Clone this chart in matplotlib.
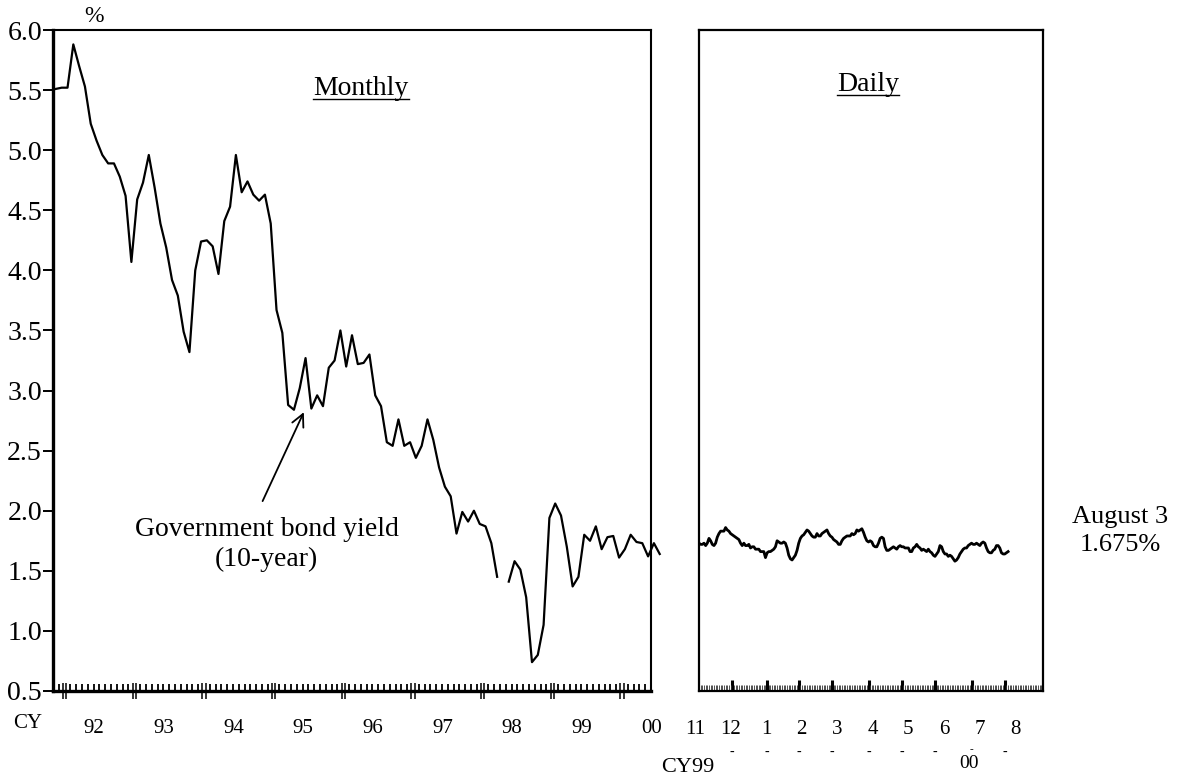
import numpy as np
import matplotlib
matplotlib.use("Agg")
import matplotlib.pyplot as plt
from matplotlib.lines import Line2D
from matplotlib.transforms import blended_transform_factory

plt.rcParams['font.family'] = ['Liberation Serif', 'DejaVu Serif']

# ---------------- data ----------------
# Monthly 10-year JGB yield, Nov 1991 .. Jul 2000 (month index 0 = Jan 1992)
monthly_start = -2
monthly_yield = [
    5.51, 5.52, 5.52, 5.88, 5.70, 5.53, 5.22, 5.08, 4.96, 4.89, 4.89, 4.78, 4.62, 4.07,   # Nov91-Dec92
    4.59, 4.73, 4.96, 4.69, 4.39, 4.19, 3.92, 3.79, 3.49, 3.32, 4.00, 4.24,               # 1993
    4.25, 4.20, 3.97, 4.41, 4.53, 4.96, 4.65, 4.74, 4.63, 4.58, 4.63, 4.39,               # 1994
    3.67, 3.48, 2.88, 2.84, 3.02, 3.27, 2.85, 2.96, 2.87, 3.19, 3.25, 3.50,               # 1995
    3.20, 3.46, 3.22, 3.23, 3.30, 2.96, 2.87, 2.57, 2.54, 2.76, 2.54, 2.57,               # 1996
    2.44, 2.54, 2.76, 2.59, 2.36, 2.20, 2.12, 1.81, 1.99, 1.91, 2.00, 1.89,               # 1997
    1.87, 1.73, 1.45, np.nan, 1.41, 1.58, 1.51, 1.28, 0.74, 0.80, 1.05, 1.94,             # 1998
    2.06, 1.96, 1.70, 1.37, 1.45, 1.80, 1.75, 1.87, 1.68, 1.78, 1.79, 1.61,               # 1999
    1.68, 1.80, 1.74, 1.73, 1.62, 1.73, 1.64,                                             # 2000
]
year_labels = ["92", "93", "94", "95", "96", "97", "98", "99", "00"]

# Daily yield, business days from Nov 1 1999 to Aug 3 2000
daily_month_labels = ["11", "12", "1", "2", "3", "4", "5", "6", "7", "8"]
business_days_per_month = [20, 21, 19, 20, 22, 20, 20, 22, 20, 23]
daily_yield = [
    1.73, 1.72, 1.72, 1.73, 1.71, 1.73, 1.77, 1.75, 1.72, 1.71,
    1.73, 1.78, 1.81, 1.83, 1.83, 1.83, 1.86, 1.84, 1.83, 1.81,
    1.80, 1.79, 1.78, 1.77, 1.76, 1.73, 1.71, 1.73, 1.71, 1.71,
    1.72, 1.69, 1.70, 1.70, 1.68, 1.68, 1.68, 1.66, 1.66, 1.66,
    1.61, 1.65, 1.66, 1.66, 1.67, 1.68, 1.70, 1.75, 1.74, 1.73,
    1.73, 1.74, 1.73, 1.69, 1.63, 1.60, 1.59, 1.61, 1.63, 1.67,
    1.73, 1.77, 1.79, 1.80, 1.82, 1.84, 1.83, 1.81, 1.79, 1.78,
    1.78, 1.81, 1.79, 1.79, 1.81, 1.82, 1.83, 1.84, 1.81, 1.79,
    1.78, 1.76, 1.75, 1.74, 1.72, 1.72, 1.75, 1.77, 1.78, 1.79,
    1.79, 1.79, 1.81, 1.80, 1.81, 1.84, 1.83, 1.84, 1.85, 1.82,
    1.78, 1.75, 1.74, 1.75, 1.74, 1.71, 1.70, 1.70, 1.73, 1.77,
    1.78, 1.77, 1.70, 1.67, 1.67, 1.68, 1.69, 1.70, 1.69, 1.68,
    1.70, 1.71, 1.70, 1.70, 1.69, 1.69, 1.69, 1.66, 1.66, 1.69,
    1.70, 1.72, 1.70, 1.69, 1.67, 1.68, 1.67, 1.66, 1.68, 1.66,
    1.65, 1.63, 1.62, 1.64, 1.66, 1.71, 1.70, 1.66, 1.64, 1.64,
    1.62, 1.63, 1.62, 1.60, 1.58, 1.59, 1.61, 1.64, 1.66, 1.68,
    1.69, 1.69, 1.71, 1.72, 1.73, 1.72, 1.72, 1.73, 1.72, 1.71,
    1.73, 1.74, 1.73, 1.69, 1.66, 1.65, 1.65, 1.67, 1.68, 1.71,
    1.71, 1.69, 1.65, 1.64, 1.64, 1.65, 1.66,
]
yticks = [0.5, 1.0, 1.5, 2.0, 2.5, 3.0, 3.5, 4.0, 4.5, 5.0, 5.5, 6.0]

# ---------------- figure ----------------
W, H = 1181, 782
fig = plt.figure(figsize=(W / 100, H / 100), dpi=100)

def fx(px):
    return px / W

def fy(py):
    return 1 - py / H

axm = fig.add_axes([fx(53), fy(691), fx(651) - fx(53), fy(30) - fy(691)])
axd = fig.add_axes([fx(699), fy(691), fx(1043) - fx(699), fy(30) - fy(691)])

# ---- monthly panel ----
m_idx = np.arange(monthly_start, monthly_start + len(monthly_yield))
axm.plot(m_idx, monthly_yield, color='black', lw=1.6, clip_on=False)
axm.set_xlim(-2.05, 100.17)
axm.set_ylim(0.5, 6.0)
axm.set_yticks(yticks)
axm.set_yticklabels([f"{v:.1f}" for v in yticks], fontsize=20)
axm.tick_params(axis='y', direction='out', length=7, width=1.4, pad=1)

n_years = len(year_labels)
major = []
for k in range(n_years):
    major += [12 * k - 0.8, 12 * k - 0.2]
minor = [j - 0.5 for j in range(-2, 102) if j % 12 != 0]
axm.set_xticks(major)
axm.set_xticks(minor, minor=True)
axm.set_xticklabels([])
axm.tick_params(axis='x', which='major', direction='inout', length=12, width=1.1)
axm.tick_params(axis='x', which='minor', direction='in', length=5, width=1.3)
for s in ['left', 'bottom']:
    axm.spines[s].set_linewidth(2.4)
for s in ['top', 'right']:
    axm.spines[s].set_linewidth(1.5)

tr = blended_transform_factory(axm.transData, axm.transAxes)
for k, lab in enumerate(year_labels):
    axm.text(12 * k + 4.6, -0.056, lab, transform=tr, ha='center', va='center', fontsize=15)
fig.text(fx(28), fy(724), "CY", ha='center', va='center', fontsize=15)
fig.text(fx(94), fy(16), "%", ha='center', va='center', fontsize=17)

t_month = axm.text(0.515, 0.912, "Monthly", transform=axm.transAxes, ha='center',
                   va='center', fontsize=20)

axm.annotate('', xy=(40.7, 2.82), xytext=(33.6, 2.08),
             arrowprops=dict(arrowstyle='->', lw=1.3, color='black', mutation_scale=22,
                             shrinkA=0, shrinkB=0))
axm.text(34.3, 1.72, "Government bond yield\n(10-year)", ha='center', va='center',
         fontsize=20, linespacing=1.25)

# ---- daily panel ----
d_idx = np.arange(len(daily_yield))
axd.plot(d_idx, daily_yield, color='black', lw=2.0)
total_days = sum(business_days_per_month)
axd.set_xlim(0, total_days)
axd.set_ylim(0.5, 6.0)
axd.set_yticks([])
starts = np.cumsum([0] + business_days_per_month[:-1])
axd.set_xticks(starts[1:])
axd.set_xticks(np.arange(0, total_days + 1), minor=True)
axd.set_xticklabels([])
axd.tick_params(axis='x', which='major', direction='in', length=8, width=2.2)
axd.tick_params(axis='x', which='minor', direction='in', length=4, width=0.6, color='#333333')
for s in axd.spines.values():
    s.set_linewidth(1.6)

trd = blended_transform_factory(axd.transData, axd.transAxes)
label_pos = np.linspace(-2.4, 190.2, len(daily_month_labels))
for x, lab in zip(label_pos, daily_month_labels):
    axd.text(x, -0.058, lab, transform=trd, ha='center', va='center', fontsize=15)
for i, s0 in enumerate(starts[1:]):
    if daily_month_labels[i + 1] == "7":
        axd.text(s0 - 1.5, -0.11, "00", transform=trd, ha='center', va='center', fontsize=14)
        axd.text(s0, -0.088, "-", transform=trd, ha='center', va='center', fontsize=8)
    else:
        axd.text(s0, -0.093, "-", transform=trd, ha='center', va='center', fontsize=10)
fig.text(fx(688), fy(767), "CY99", ha='center', va='center', fontsize=16)

t_daily = axd.text(0.491, 0.917, "Daily", transform=axd.transAxes, ha='center',
                   va='center', fontsize=20)

fig.text(fx(1120), fy(531), "August 3\n1.675%", ha='center', va='center', fontsize=19,
         linespacing=1.3)

# underline titles
fig.canvas.draw()
renderer = fig.canvas.get_renderer()
for t in (t_month, t_daily):
    bb = t.get_window_extent(renderer)
    ybase = bb.y0 + bb.height * 0.2
    fig.add_artist(Line2D([bb.x0 / W, bb.x1 / W], [ybase / H - 0.004, ybase / H - 0.004],
                          transform=fig.transFigure, color='black', lw=1.0))

fig.savefig("out.png", dpi=100)
